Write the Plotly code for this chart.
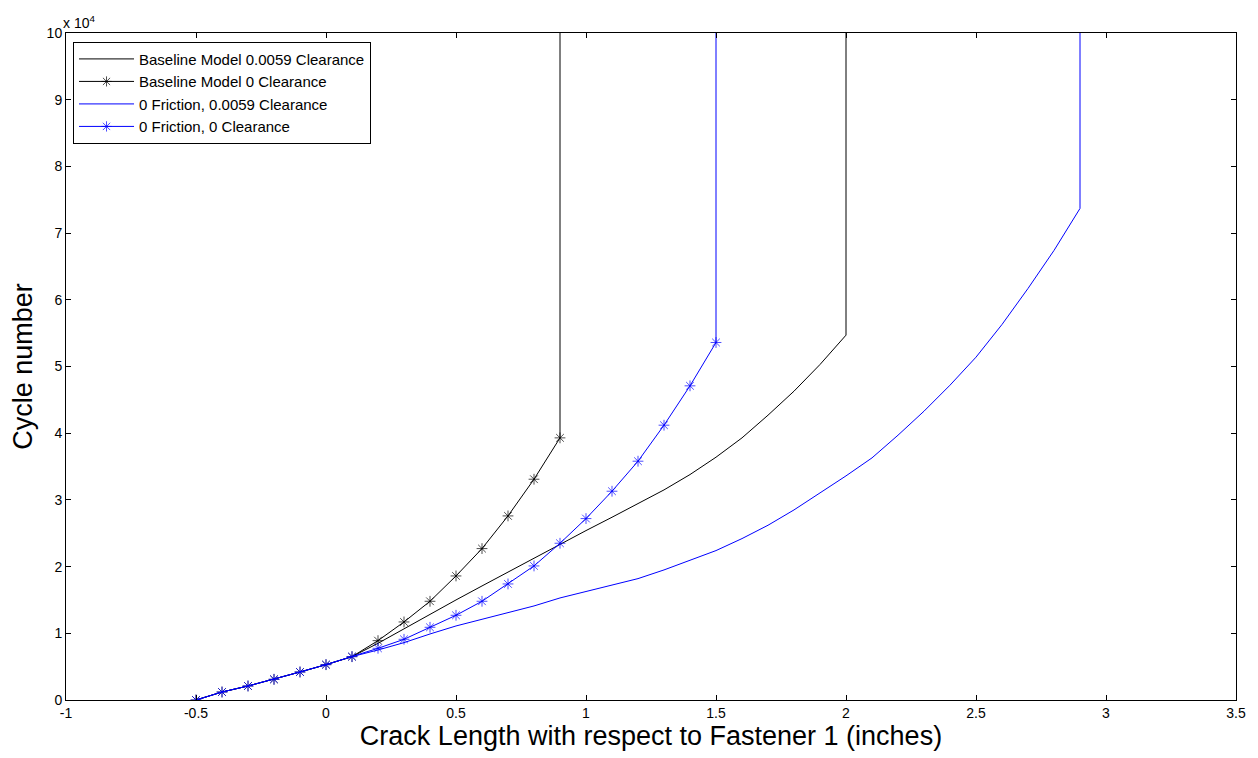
import plotly.graph_objects as go

Y_TOP = 100000

x_base = [-0.5, -0.4, -0.3, -0.2, -0.1, 0.0, 0.1, 0.2, 0.3, 0.4, 0.5, 0.6, 0.7, 0.8, 0.9,
          1.0, 1.1, 1.2, 1.3, 1.4, 1.5, 1.6, 1.7, 1.8, 1.9, 2.0]
y_base = [0, 1200, 2100, 3100, 4200, 5300, 6500, 8500, 10700, 12900, 15000, 17100, 19200,
          21300, 23400, 25400, 27400, 29400, 31500, 33800, 36400, 39300, 42700, 46300,
          50300, 54700]

x_base0 = [-0.5, -0.4, -0.3, -0.2, -0.1, 0.0, 0.1, 0.2, 0.3, 0.4, 0.5, 0.6, 0.7, 0.8, 0.9]
y_base0 = [0, 1200, 2100, 3100, 4200, 5300, 6500, 8900, 11700, 14800, 18600, 22700, 27600,
           33100, 39300]

x_fric = [-0.5, -0.4, -0.3, -0.2, -0.1, 0.0, 0.1, 0.2, 0.3, 0.4, 0.5, 0.6, 0.7, 0.8, 0.9,
          1.0, 1.1, 1.2, 1.3, 1.4, 1.5, 1.6, 1.7, 1.8, 1.9, 2.0, 2.1, 2.2, 2.3, 2.4, 2.5,
          2.6, 2.7, 2.8, 2.9]
y_fric = [0, 1200, 2100, 3100, 4200, 5300, 6500, 7500, 8600, 9900, 11100, 12100, 13100,
          14100, 15300, 16300, 17200, 18200, 19500, 20900, 22400, 24200, 26200, 28500,
          31000, 33600, 36300, 39700, 43300, 47200, 51400, 56300, 61700, 67400, 73700]

x_fric0 = [-0.5, -0.4, -0.3, -0.2, -0.1, 0.0, 0.1, 0.2, 0.3, 0.4, 0.5, 0.6, 0.7, 0.8, 0.9,
           1.0, 1.1, 1.2, 1.3, 1.4, 1.5]
y_fric0 = [0, 1200, 2100, 3100, 4200, 5300, 6500, 7750, 9100, 10900, 12700, 14800, 17400,
           20100, 23500, 27200, 31300, 35800, 41200, 47100, 53600]

names = ["Baseline Model 0.0059 Clearance", "Baseline Model 0 Clearance",
         "0 Friction, 0.0059 Clearance", "0 Friction, 0 Clearance"]

x_ticks = [-1, -0.5, 0, 0.5, 1, 1.5, 2, 2.5, 3, 3.5]
x_ticktext = ["-1", "-0.5", "0", "0.5", "1", "1.5", "2", "2.5", "3", "3.5"]
y_ticks = [0, 10000, 20000, 30000, 40000, 50000, 60000, 70000, 80000, 90000, 100000]
y_ticktext = ["0", "1", "2", "3", "4", "5", "6", "7", "8", "9", "10"]

FONT = "Liberation Sans, Arial, Helvetica"

fig = go.Figure()

def add(xs, ys, name, color, markers):
    xx = list(xs) + [xs[-1]]
    yy = list(ys) + [Y_TOP]
    if markers:
        sizes = [9] * len(xs) + [0]
        fig.add_trace(go.Scatter(x=xx, y=yy, name=name, mode="lines+markers",
                                 line=dict(color=color, width=1),
                                 marker=dict(symbol="asterisk-open", size=sizes,
                                             line=dict(color=color, width=1), color=color)))
    else:
        fig.add_trace(go.Scatter(x=xx, y=yy, name=name, mode="lines",
                                 line=dict(color=color, width=1)))

add(x_base, y_base, names[0], "#000000", False)
add(x_base0, y_base0, names[1], "#000000", True)
add(x_fric, y_fric, names[2], "#0000ff", False)
add(x_fric0, y_fric0, names[3], "#0000ff", True)

axis_common = dict(showline=True, linecolor="black", linewidth=1, mirror="ticks",
                   ticks="inside", ticklen=5, tickcolor="black", showgrid=False,
                   zeroline=False, tickfont=dict(family=FONT, size=14, color="black"))

fig.update_xaxes(range=[-1, 3.5], tickvals=x_ticks, ticktext=x_ticktext,
                 title=dict(text="Crack Length with respect to Fastener 1 (inches)",
                            font=dict(family=FONT, size=27, color="black"),
                            standoff=6),
                 **axis_common)
fig.update_yaxes(range=[0, 100000], tickvals=y_ticks, ticktext=y_ticktext,
                 title=dict(text="Cycle number",
                            font=dict(family=FONT, size=27, color="black"),
                            standoff=6),
                 **axis_common)

fig.add_annotation(x=0, y=1, xref="paper", yref="paper", xanchor="left", yanchor="bottom",
                   text="x 10<sup>4</sup>", showarrow=False, xshift=-5, yshift=0,
                   font=dict(family=FONT, size=14, color="black"))

fig.update_layout(
    width=1258, height=758,
    margin=dict(l=66, r=20, t=33, b=58),
    paper_bgcolor="white", plot_bgcolor="white",
    showlegend=True,
    legend=dict(x=0.006, y=0.987, xanchor="left", yanchor="top",
                bgcolor="white", bordercolor="black", borderwidth=1,
                font=dict(family=FONT, size=15, color="black"),
                itemwidth=55, tracegroupgap=0),
)

fig.write_html("out.html")
